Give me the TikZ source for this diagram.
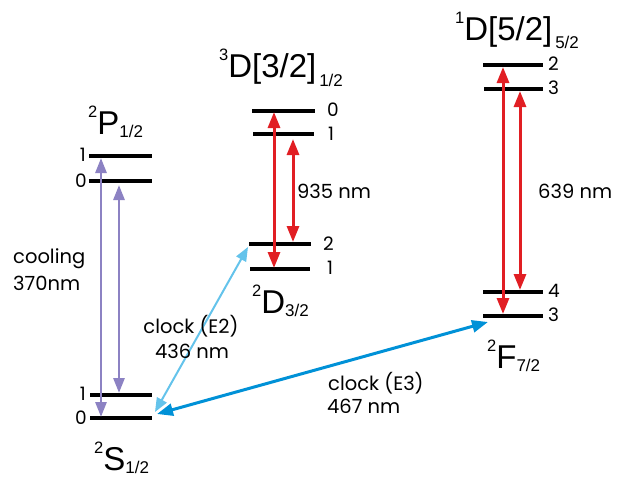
\documentclass[tikz,border=0pt]{standalone}
\usepackage{fontspec}
\setmainfont{Liberation Sans}
\newfontfamily\gothic{Poppins}
\usetikzlibrary{arrows.meta}
\definecolor{coolpurple}{RGB}{140,130,195}
\definecolor{laserred}{RGB}{225,30,35}
\definecolor{clocklight}{RGB}{100,195,235}
\definecolor{clockblue}{RGB}{0,145,215}
\tikzset{
  lev/.style={line width=4pt, black},
  coolarrow/.style={line width=2.7pt, coolpurple, {Triangle[length=15pt,width=11pt]}-{Triangle[length=15pt,width=11pt]}},
  redarrow/.style={line width=3pt, laserred, {Triangle[length=16pt,width=12pt]}-{Triangle[length=16pt,width=12pt]}},
  e2arrow/.style={line width=2pt, clocklight, {Triangle[length=14pt,width=11pt]}-{Triangle[length=14pt,width=11pt]}},
  e3arrow/.style={line width=3pt, clockblue, {Triangle[length=16pt,width=12pt]}-{Triangle[length=16pt,width=12pt]}},
  num/.style={font=\gothic\fontsize{18.5}{18.5}\selectfont, inner sep=0pt},
  desc/.style={font=\gothic\fontsize{19.5}{19.5}\selectfont, inner sep=0pt},
  term/.style={font=\fontsize{33}{33}\selectfont, inner sep=0pt, anchor=base west},
}
\newcommand\termlab[4]{\raisebox{17pt}{\fontsize{16.5}{16.5}\selectfont #1}#2\raisebox{-#4}{\fontsize{17}{17}\selectfont #3}}
\begin{document}
\begin{tikzpicture}[x=1pt,y=-1pt]
\useasboundingbox (0,0) rectangle (619,480);
% levels
\draw[lev] (90,395) coordinate (s1l) -- (152,395) coordinate (s1r);
\draw[lev] (90,418) coordinate (s0l) -- (152,418) coordinate (s0r);
\draw[lev] (89,156) coordinate (p1l) -- (152,156) coordinate (p1r);
\draw[lev] (89,181) coordinate (p0l) -- (152,181) coordinate (p0r);
\draw[lev] (252,111) coordinate (da0l) -- (315,111) coordinate (da0r);
\draw[lev] (253,134) coordinate (da1l) -- (314,134) coordinate (da1r);
\draw[lev] (249,244) coordinate (db2l) -- (311,244) coordinate (db2r);
\draw[lev] (250,269) coordinate (db1l) -- (310,269) coordinate (db1r);
\draw[lev] (483,65) coordinate (dc2l) -- (543,65) coordinate (dc2r);
\draw[lev] (484,89) coordinate (dc3l) -- (543,89) coordinate (dc3r);
\draw[lev] (483,292) coordinate (f4l) -- (543,292) coordinate (f4r);
\draw[lev] (483,316) coordinate (f3l) -- (543,316) coordinate (f3r);
% arrow end points
\coordinate (ca1) at (101,158); \coordinate (ca2) at (101,417);
\coordinate (cb1) at (119,185); \coordinate (cb2) at (119,393);
\coordinate (ra1) at (274,112); \coordinate (ra2) at (274,268);
\coordinate (rb1) at (293,139); \coordinate (rb2) at (293,242);
\coordinate (rc1) at (503,67); \coordinate (rc2) at (503,314);
\coordinate (rd1) at (520,91); \coordinate (rd2) at (520,290);
\coordinate (e2a) at (155,412); \coordinate (e2b) at (248,247);
\coordinate (e3a) at (157,414); \coordinate (e3b) at (488,322);
% transitions
\draw[coolarrow] (ca1) -- (ca2);
\draw[coolarrow] (cb1) -- (cb2);
\draw[redarrow] (ra1) -- (ra2);
\draw[redarrow] (rb1) -- (rb2);
\draw[redarrow] (rc1) -- (rc2);
\draw[redarrow] (rd1) -- (rd2);
\draw[e2arrow] (e2a) -- (e2b);
\draw[e3arrow] (e3a) -- (e3b);
% level numbers
\node[num, anchor=east] (np1) at (86,155) {1};
\node[num, anchor=east] (np0) at (87,181) {0};
\node[num, anchor=east] (ns1) at (86,394) {1};
\node[num, anchor=east] (ns0) at (87,418) {0};
\node[num, anchor=west] (nda0) at (327,110) {0};
\node[num, anchor=west] (nda1) at (328,134) {1};
\node[num, anchor=west] (ndb2) at (323,244) {2};
\node[num, anchor=west] (ndb1) at (327,268) {1};
\node[num, anchor=west] (ndc2) at (548,64) {2};
\node[num, anchor=west] (ndc3) at (548,88) {3};
\node[num, anchor=west] (nf4) at (548,291) {4};
\node[num, anchor=west] (nf3) at (548,315) {3};
% term labels
\node[term] (tP) at (88,134) {\termlab{2}{P}{1/2}{3pt}};
\node[term] (tDa) at (219,77) {\termlab{3}{D[3/2]}{\,1/2}{9pt}};
\node[term] (tDc) at (455,40) {\termlab{1}{D[5/2]}{\,5/2}{8pt}};
\node[term] (tS) at (94,470) {\termlab{2}{S}{1/2}{3pt}};
\node[term] (tDb) at (252,313) {\termlab{2}{D}{3/2}{3pt}};
\node[term] (tF) at (487,368) {\termlab{2}{F}{7/2}{3pt}};
% descriptions
\node[desc, anchor=base west] (cool1) at (13,263) {cooling};
\node[desc, anchor=base west] (cool2) at (13,290) {370nm};
\node[desc, anchor=base west] (w935) at (297,198) {935 nm};
\node[desc, anchor=base west] (w639) at (538,198) {639 nm};
\node[desc, anchor=base] (e2l1) at (191,333) {clock (E2)};
\node[desc, anchor=base] (e2l2) at (192,358) {436 nm};
\node[desc, anchor=base west] (e3l1) at (328,390) {clock (E3)};
\node[desc, anchor=base west] (e3l2) at (327,413) {467 nm};
\end{tikzpicture}
\end{document}
